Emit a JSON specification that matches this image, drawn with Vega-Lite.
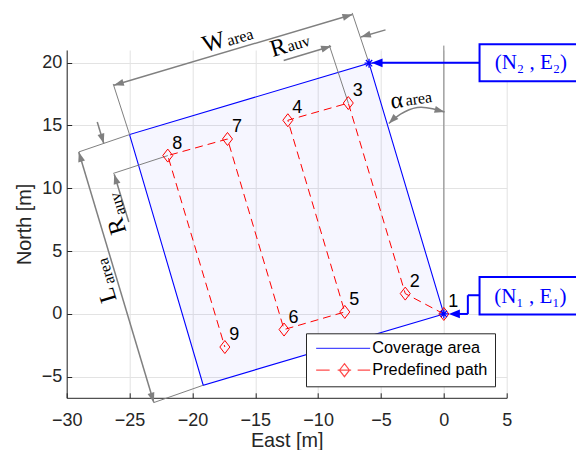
{
  "$schema": "https://vega.github.io/schema/vega-lite/v6.json",
  "width": 440,
  "height": 347.8,
  "autosize": {"type": "none"},
  "padding": {"left": 66.7, "top": 50, "right": 69.3, "bottom": 52.2},
  "background": "white",
  "config": {
    "view": {"stroke": null},
    "font": "Liberation Sans",
    "axis": {
      "domainColor": "#262626", "domainWidth": 1,
      "tickColor": "#262626", "tickSize": -5, "tickWidth": 1,
      "gridColor": "#e3e3e3", "gridWidth": 1,
      "labelFont": "Liberation Sans", "labelFontSize": 18, "labelColor": "#262626",
      "labelFlush": false, "labelOverlap": false,
      "titleFont": "Liberation Sans", "titleFontSize": 19.8, "titleFontWeight": "normal", "titleColor": "#262626"
    },
    "axisX": {"labelPadding": 19, "titlePadding": 0.5},
    "axisY": {"labelPadding": 10, "titlePadding": 7},
    "legend": {
      "orient": "none", "legendX": 239.3, "legendY": 283.3,
      "labelFont": "Liberation Sans", "labelFontSize": 16.3, "labelColor": "#000000",
      "fillColor": "white", "strokeColor": "#262626", "strokeWidth": 1,
      "padding": 7, "symbolSize": 100, "symbolStrokeWidth": 1.2,
      "labelOffset": 43, "rowPadding": 3.7
    }
  },
  "datasets": {
    "corners": [
      {"E": 0, "N": 0, "o": 1},
      {"E": -5.95, "N": 19.95, "o": 2},
      {"E": -25.0, "N": 14.27, "o": 3},
      {"E": -19.14, "N": -5.67, "o": 4},
      {"E": 0, "N": 0, "o": 5}
    ],
    "path": [
      {"id": 1, "E": 0, "N": 0},
      {"id": 2, "E": -3.07, "N": 1.62},
      {"id": 3, "E": -7.6, "N": 16.78},
      {"id": 4, "E": -12.41, "N": 15.41},
      {"id": 5, "E": -7.88, "N": 0.16},
      {"id": 6, "E": -12.71, "N": -1.24},
      {"id": 7, "E": -17.21, "N": 13.92},
      {"id": 8, "E": -21.96, "N": 12.6},
      {"id": 9, "E": -17.42, "N": -2.63}
    ],
    "extLines": [
      {"E": -25.0, "N": 14.27, "E2": -29.04, "N2": 12.89},
      {"E": -19.14, "N": -5.67, "E2": -23.07, "N2": -7.05},
      {"E": -25.0, "N": 14.27, "E2": -26.3, "N2": 18.3},
      {"E": -5.95, "N": 19.95, "E2": -7.29, "N2": 23.95},
      {"E": -7.6, "N": 16.78, "E2": -9.12, "N2": 21.4},
      {"E": -21.96, "N": 12.6, "E2": -26.3, "N2": 11.18},
      {"E": 0, "N": 0, "E2": 0, "N2": 21.35}
    ],
    "dimLines": [
      {"E": -26.25, "N": 18.19, "E2": -7.27, "N2": 23.83},
      {"E": -12.74, "N": 20.17, "E2": -8.97, "N2": 21.3},
      {"E": -4.64, "N": 22.6, "E2": -6.6, "N2": 22.03},
      {"E": -29.04, "N": 12.89, "E2": -23.07, "N2": -7.05},
      {"E": -27.57, "N": 15.27, "E2": -27.05, "N2": 13.56},
      {"E": -25.06, "N": 7.32, "E2": -26.22, "N2": 11.12}
    ],
    "arc": [
      {"o": 1, "E": -4.375, "N": 15.15},
      {"o": 2, "E": -3.445, "N": 15.89},
      {"o": 3, "E": -2.116, "N": 16.42},
      {"o": 4, "E": -0.899, "N": 16.32},
      {"o": 5, "E": 0.056, "N": 16.07}
    ],
    "grayHeads": [
      {"E": -7.27, "N": 23.83, "dir": 343.4},
      {"E": -26.25, "N": 18.19, "dir": 163.4},
      {"E": -8.97, "N": 21.3, "dir": 343.4},
      {"E": -6.6, "N": 22.03, "dir": 163.4},
      {"E": -23.07, "N": -7.05, "dir": 73.3},
      {"E": -29.04, "N": 12.89, "dir": 253.3},
      {"E": -27.05, "N": 13.56, "dir": 73.3},
      {"E": -26.22, "N": 11.12, "dir": 253.3},
      {"E": -4.375, "N": 15.15, "dir": 135},
      {"E": 0.056, "N": 16.07, "dir": 15}
    ],
    "stars": [
      {"E": 0, "N": 0},
      {"E": -5.95, "N": 19.95}
    ],
    "blueLines": [
      {"E": 2.84, "N": 19.98, "E2": -5.2, "N2": 19.98},
      {"E": 2.84, "N": 1.49, "E2": 1.91, "N2": 1.49},
      {"E": 1.91, "N": 1.49, "E2": 1.91, "N2": 0},
      {"E": 1.91, "N": 0, "E2": 0.9, "N2": 0}
    ],
    "blueHeads": [
      {"E": -5.75, "N": 19.98, "dir": 180},
      {"E": 0.4, "N": 0, "dir": 180}
    ],
    "boxes": [
      {"E": 2.84, "E2": 11, "N": 18.51, "N2": 21.45},
      {"E": 2.84, "E2": 11, "N": -0.05, "N2": 2.94}
    ],
    "boxText": [
      {"E": 6.92, "N": 19.99, "label": "(N₂ , E₂)"},
      {"E": 6.88, "N": 1.35, "label": "(N₁ , E₁)"}
    ],
    "mainSym": [
      {"E": -18.3, "N": 21.6, "dir": 343.4, "label": "W"},
      {"E": -13.15, "N": 21.15, "dir": 343.4, "label": "R"},
      {"E": -26.72, "N": 1.5, "dir": 253.3, "label": "L"},
      {"E": -25.95, "N": 7.0, "dir": 253.3, "label": "R"},
      {"E": -3.75, "N": 16.94, "dir": 352, "label": "α"}
    ],
    "subSym": [
      {"E": -16.2, "N": 22.0, "dir": 343.4, "label": "area"},
      {"E": -11.55, "N": 21.5, "dir": 343.4, "label": "auv"},
      {"E": -26.85, "N": 3.4, "dir": 253.3, "label": "area"},
      {"E": -25.95, "N": 8.75, "dir": 253.3, "label": "auv"},
      {"E": -2.0, "N": 17.1, "dir": 352, "label": "area"}
    ],
    "legendItems": [
      {"series": "Coverage area"},
      {"series": "Predefined path"}
    ]
  },
  "encoding": {
    "x": {"field": "E", "type": "quantitative",
      "scale": {"domain": [-30, 5], "nice": false, "zero": false},
      "axis": {"title": "East [m]", "values": [-30, -25, -20, -15, -10, -5, 0, 5]}},
    "y": {"field": "N", "type": "quantitative",
      "scale": {"domain": [-6.67, 21], "nice": false, "zero": false},
      "axis": {"title": "North [m]", "values": [-5, 0, 5, 10, 15, 20]}}
  },
  "layer": [
    {
      "data": {"name": "corners"},
      "mark": {"type": "line", "stroke": "#0000ff", "strokeWidth": 1.1, "fill": "#0000ff", "fillOpacity": 0.035},
      "encoding": {"order": {"field": "o", "type": "quantitative"}}
    },
    {
      "data": {"name": "extLines"},
      "mark": {"type": "rule", "color": "#808080", "strokeWidth": 1},
      "encoding": {"x2": {"field": "E2"}, "y2": {"field": "N2"}}
    },
    {
      "data": {"name": "dimLines"},
      "mark": {"type": "rule", "color": "#808080", "strokeWidth": 1.5},
      "encoding": {"x2": {"field": "E2"}, "y2": {"field": "N2"}}
    },
    {
      "data": {"name": "arc"},
      "mark": {"type": "line", "color": "#808080", "strokeWidth": 1.5, "interpolate": "natural"},
      "encoding": {"order": {"field": "o", "type": "quantitative"}}
    },
    {
      "data": {"name": "grayHeads"},
      "mark": {"type": "point", "shape": "M0,0L-2,-0.7L-2,0.7Z", "filled": true, "color": "#808080", "opacity": 1, "size": 100},
      "encoding": {"angle": {"field": "dir", "type": "quantitative", "scale": null}}
    },
    {
      "data": {"name": "path"},
      "mark": {"type": "line", "color": "#ff0000", "strokeWidth": 1, "strokeDash": [8, 5]},
      "encoding": {"order": {"field": "id", "type": "quantitative"}}
    },
    {
      "data": {"name": "path"},
      "mark": {"type": "point", "shape": "M0,-1.3L1,0L0,1.3L-1,0Z", "filled": false, "color": "#ff0000", "opacity": 1, "size": 100, "strokeWidth": 1},
      "encoding": {}
    },
    {
      "data": {"name": "path"},
      "mark": {"type": "text", "font": "Liberation Sans", "fontSize": 18, "color": "#000000", "dx": 9.5, "dy": -12, "align": "center", "baseline": "middle"},
      "encoding": {"text": {"field": "id", "type": "nominal"}}
    },
    {
      "data": {"name": "stars"},
      "mark": {"type": "point", "shape": "M-1,0L1,0M0,-1L0,1M-0.7,-0.7L0.7,0.7M-0.7,0.7L0.7,-0.7", "filled": false, "color": "#0000ff", "opacity": 1, "size": 81, "strokeWidth": 1.3},
      "encoding": {}
    },
    {
      "data": {"name": "blueLines"},
      "mark": {"type": "rule", "color": "#0000ff", "strokeWidth": 2},
      "encoding": {"x2": {"field": "E2"}, "y2": {"field": "N2"}}
    },
    {
      "data": {"name": "blueHeads"},
      "mark": {"type": "point", "shape": "M0,0L-2,-0.8L-2,0.8Z", "filled": true, "color": "#0000ff", "opacity": 1, "size": 121},
      "encoding": {"angle": {"field": "dir", "type": "quantitative", "scale": null}}
    },
    {
      "data": {"name": "boxes"},
      "mark": {"type": "rect", "fill": "white", "stroke": "#0000ff", "strokeWidth": 2},
      "encoding": {"x2": {"field": "E2"}, "y2": {"field": "N2"}}
    },
    {
      "data": {"name": "boxText"},
      "mark": {"type": "text", "font": "Liberation Serif", "fontSize": 21, "color": "#0000ff", "align": "center", "baseline": "middle"},
      "encoding": {"text": {"field": "label", "type": "nominal"}}
    },
    {
      "data": {"name": "mainSym"},
      "mark": {"type": "text", "font": "Liberation Serif", "fontSize": 24, "color": "#000000", "align": "center", "baseline": "middle"},
      "encoding": {"text": {"field": "label", "type": "nominal"}, "angle": {"field": "dir", "type": "quantitative", "scale": null}}
    },
    {
      "data": {"name": "subSym"},
      "mark": {"type": "text", "font": "Liberation Serif", "fontSize": 16, "color": "#000000", "align": "center", "baseline": "middle"},
      "encoding": {"text": {"field": "label", "type": "nominal"}, "angle": {"field": "dir", "type": "quantitative", "scale": null}}
    },
    {
      "data": {"name": "legendItems"},
      "transform": [{"filter": "datum.series == 'none'"}],
      "mark": {"type": "point", "filled": false},
      "encoding": {
        "x": {"datum": 0, "type": "quantitative"},
        "y": {"datum": 0, "type": "quantitative"},
        "color": {"field": "series", "type": "nominal",
          "scale": {"domain": ["Coverage area", "Predefined path"], "range": ["#0000ff", "#ff0000"]},
          "legend": {"title": null}},
        "shape": {"field": "series", "type": "nominal",
          "scale": {"domain": ["Coverage area", "Predefined path"],
            "range": ["M-1,0H9.8", "M-1,0H1.7M3.3,0H6M7.3,0H9.8M4.66,-1.3L5.66,0L4.66,1.3L3.66,0Z"]},
          "legend": {"title": null}}
      }
    }
  ]
}
